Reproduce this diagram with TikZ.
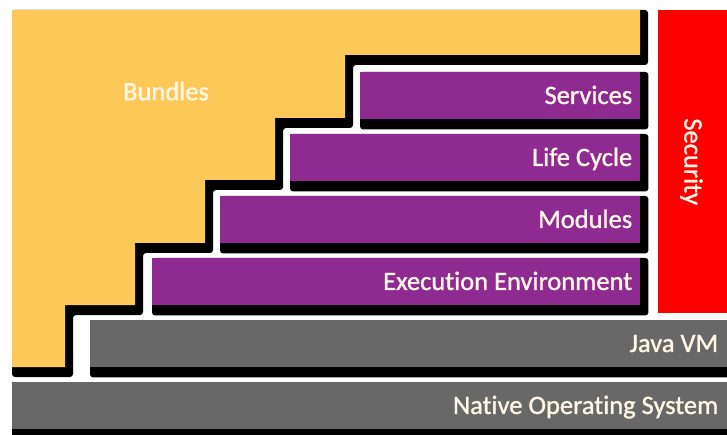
\documentclass[tikz,border=0pt]{standalone}
\usepackage{fontspec}
\newfontfamily\layerfont[FakeBold=1.2,Ligatures=NoCommon]{Carlito}
\usetikzlibrary{positioning,backgrounds}
\definecolor{bundlecol}{HTML}{FCC857}
\definecolor{modcol}{HTML}{8F2A90}
\definecolor{basecol}{HTML}{686868}
\definecolor{seccol}{HTML}{FF0000}
\definecolor{txtcol}{HTML}{FFF6E6}
\tikzset{
  layer/.style={anchor=north west,inner sep=0pt,minimum height=47pt},
  module/.style={layer,fill=modcol},
  base/.style={layer,fill=basecol},
  shade/.style={fill=black,rounded corners=3pt},
  lbl/.style={font=\layerfont\fontsize{26.5}{30}\selectfont,text=txtcol,
    inner sep=0pt,text height=16.5pt,text depth=0pt}
}

\begin{document}
\begin{tikzpicture}[x=1pt,y=-1pt]
  \useasboundingbox (0,0) rectangle (727,435);
  % bundles (stair shape)
  \fill[shade]
    (12,10) -- (648,10) -- (648,65) -- (353,65) -- (353,128) -- (283,128)
    -- (283,190) -- (213,190) -- (213,253) -- (143,253) -- (143,315)
    -- (73,315) -- (73,377) -- (12,377) -- cycle;
  \fill[bundlecol]
    (12,10) -- (640,10) -- (640,55) -- (345,55) -- (345,118) -- (275,118)
    -- (275,180) -- (205,180) -- (205,243) -- (135,243) -- (135,305)
    -- (65,305) -- (65,367) -- (12,367) -- cycle;
  \node[lbl] (bndtxt) at (166,92) {Bundles};
  % framework layers
  \node[module,minimum width=280pt] (svc) at (360,72) {};
  \node[lbl,left=8pt of svc.east] (svctxt) {Services};
  \node[module,minimum width=350pt] (life) at (290,134) {};
  \node[lbl,left=8pt of life.east] (lifetxt) {Life Cycle};
  \node[module,minimum width=420pt] (mod) at (220,196) {};
  \node[lbl,left=8pt of mod.east] (modtxt) {Modules};
  \node[module,minimum width=488pt] (exec) at (152,258) {};
  \node[lbl,left=8pt of exec.east] (exectxt) {Execution Environment};
  % platform
  \node[base,minimum width=637pt] (jvm) at (90,320) {};
  \node[lbl,left=9pt of jvm.east] (jvmtxt) {Java VM};
  \node[base,minimum width=715pt] (os) at (12,382) {};
  \node[lbl,left=9pt of os.east] (ostxt) {Native Operating System};
  % security
  \node[anchor=north west,inner sep=0pt,fill=seccol,minimum width=69pt,
    minimum height=303pt] (sec) at (658,10) {};
  \node[lbl,rotate=-90] (sectxt) at (sec.center) {Security};
  % shadows
  \begin{scope}[on background layer]
    \foreach \n in {svc,life,mod,exec,jvm,os}
      \fill[shade] (\n.north west) rectangle ([shift={(8,10)}]\n.south east);
  \end{scope}
\end{tikzpicture}
\end{document}
